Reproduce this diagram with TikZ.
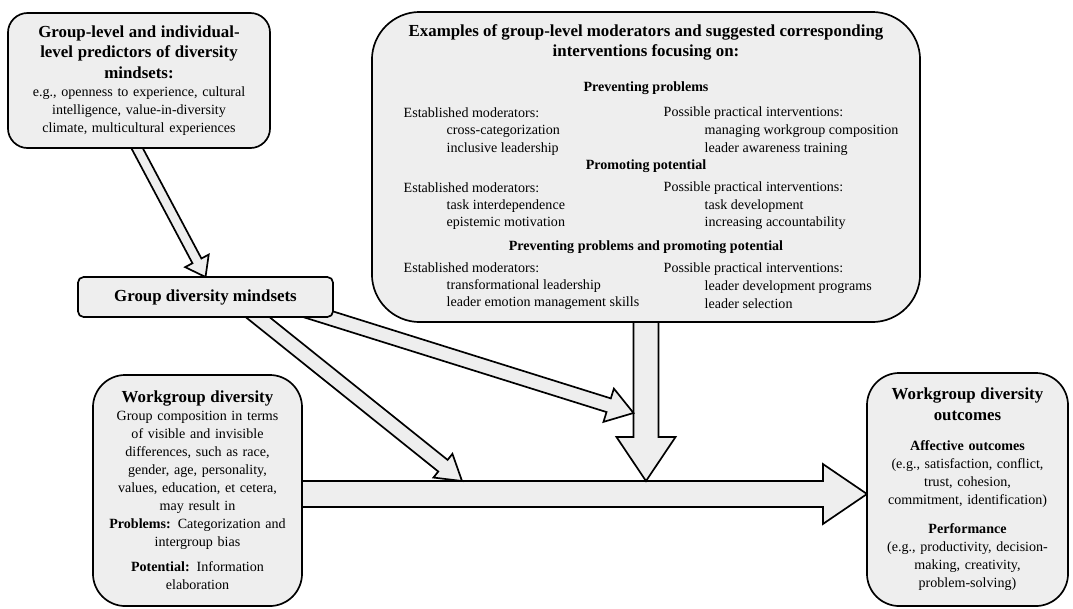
\documentclass[tikz,border=0pt]{standalone}
\usepackage{fontspec}
\setmainfont{Liberation Serif}
\usetikzlibrary{positioning,calc}
\definecolor{Fond}{HTML}{EEEEEE}
\pgfdeclarelayer{dessous}
\pgfsetlayers{dessous,main}
\newcommand\titre{\fontsize{12}{14.5}\selectfont\bfseries}
\newcommand\corps{\fontsize{10}{12.8}\selectfont}
% fleche pleine : depart, pointe, demi-largeur du corps, demi-largeur de la tete, longueur de la tete
\newcommand\fleche[5]{%
  \coordinate (base) at ($(#2)!#5!(#1)$);
  \draw[flechepleine] ($(#1)!#3!90:(#2)$) -- ($(base)!#3!90:(#2)$) -- ($(base)!#4!90:(#2)$) -- (#2)
    -- ($(base)!#4!-90:(#2)$) -- ($(base)!#3!-90:(#2)$) -- ($(#1)!#3!-90:(#2)$) -- cycle;}

\begin{document}
\begin{tikzpicture}[x=0.025cm,y=-0.025cm,
    boite/.style={draw, line width=1.2pt, fill=Fond, outer sep=0pt, inner sep=0pt, align=center},
    ligne/.style={font=\corps, inner sep=1pt, anchor=west},
    flechepleine/.style={draw, line width=1.2pt, fill=Fond, line join=miter}]
  \useasboundingbox (0,0) rectangle (1073,608);

  % les boites
  \node[boite, minimum width=6.55cm, minimum height=3.375cm, rounded corners=14pt, text width=6.3cm] (pred) at (139,80.5)
    {{\titre Group-level and individual-\\level predictors of diversity\\mindsets:\par}
     {\corps e.g., openness to experience, cultural\\intelligence, value-in-diversity\\climate, multicultural experiences\par}};
  \node[boite, minimum width=6.375cm, minimum height=1cm, rounded corners=4pt, font=\titre] (mind) at (205.5,297) {Group diversity mindsets};
  \node[boite, minimum width=13.7cm, minimum height=7.75cm, rounded corners=34pt] (mod) at (646,167) {};
  \node[boite, minimum width=5.225cm, minimum height=5.775cm, rounded corners=23pt, text width=4.9cm] (wg) at (197.5,490.5)
    {{\titre Workgroup diversity\par}
     {\corps Group composition in terms\\of visible and invisible\\differences, such as race,\\gender, age, personality,\\values, education, et cetera,\\may result in\\\textbf{Problems:} Categorization and\\intergroup bias\par}
     \vspace{5pt}
     {\corps\textbf{Potential:} Information\\elaboration\par}};
  \node[boite, minimum width=5.025cm, minimum height=5.825cm, rounded corners=23pt, text width=4.8cm] (out) at (967.5,489.5)
    {{\titre Workgroup diversity\\outcomes\par}
     \vspace{9pt}
     {\corps\textbf{Affective outcomes}\\(e.g., satisfaction, conflict,\\trust, cohesion,\\commitment, identification)\par}
     \vspace{8pt}
     {\corps\textbf{Performance}\\(e.g., productivity, decision-\\making, creativity,\\problem-solving)\par}};

  % texte des moderateurs
  \node[font=\titre, align=center] (modtitre) at (646,42.5) {Examples of group-level moderators and suggested corresponding\\interventions focusing on:};
  \foreach \ypos/\txt [count=\i] in {88/Preventing problems, 166/Promoting potential, 247/Preventing problems and promoting potential}
    \node[font=\corps\bfseries, inner sep=1pt] (rubrique\i) at (646,\ypos) {\txt};
  \foreach \ypos/\decal/\txt [count=\i] in {113/0/Established moderators:, 131/43/cross-categorization, 149/43/inclusive leadership,
      188/0/Established moderators:, 206/43/task interdependence, 223/43/epistemic motivation,
      268/0/Established moderators:, 286/43/transformational leadership, 303/43/leader emotion management skills}
    \node[ligne] (gauche\i) at (402+\decal,\ypos) {\txt};
  \foreach \ypos/\decal/\txt [count=\i] in {113/0/Possible practical interventions:, 131/41/managing workgroup composition, 149/41/leader awareness training,
      188/0/Possible practical interventions:, 206/41/task development, 223/41/increasing accountability,
      269/0/Possible practical interventions:, 287/41/leader development programs, 304/41/leader selection}
    \node[ligne] (droite\i) at (662+\decal,\ypos) {\txt};

  % les fleches, sous les boites
  \begin{pgfonlayer}{dessous}
    \coordinate (ms) at ($(wg.east)+(-10,3.5)$);
    \coordinate (me) at (out.west |- ms);
    \fleche{ms}{me}{9.2pt}{21.3pt}{31.3pt}
    \coordinate (vs) at ($(mod.south)+(0,-10)$);
    \coordinate (ve) at ($(mod.south |- ms)+(0,-13)$);
    \fleche{vs}{ve}{8.9pt}{21pt}{31.3pt}
    \coordinate (d1s) at ($(mind.south)+(39.5,-10)$);
    \coordinate (d1e) at ($(ms)+(170,-13)$);
    \fleche{d1s}{d1e}{5.3pt}{10.8pt}{17.4pt}
    \coordinate (d2s) at ($(mind.south east)+(-38,-10)$);
    \coordinate (d2e) at ($(ve)+(-12.5,-68)$);
    \fleche{d2s}{d2e}{5.1pt}{12.4pt}{18.5pt}
    \coordinate (ps) at ($(pred.south)+(-6,-7.5)$);
    \fleche{ps}{mind.north}{3.6pt}{9.5pt}{13pt}
  \end{pgfonlayer}
\end{tikzpicture}
\end{document}
